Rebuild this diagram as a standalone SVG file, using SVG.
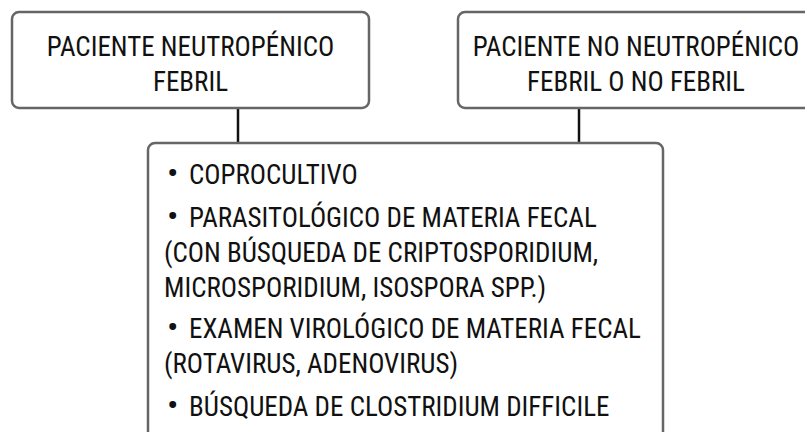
<svg xmlns="http://www.w3.org/2000/svg" width="805" height="432" viewBox="0 0 805 432">
<style>
.box{fill:#fff;stroke:#666;stroke-width:2.5}
.t{font-family:"Liberation Sans Narrow","Roboto Condensed","Liberation Sans",sans-serif;font-size:27px;fill:#111}
.c{text-anchor:middle}
.b{font-size:34px}
.conn{stroke:#111;stroke-width:2.5;fill:none}
</style>
<rect width="805" height="432" fill="#fff"/>
<g id="connectors">
<line class="conn" x1="238" y1="108" x2="238" y2="143"/>
<line class="conn" x1="579" y1="108" x2="579" y2="143"/>
</g>
<g id="node-neutropenico">
<rect class="box" x="12" y="12" width="357" height="96" rx="7"/>
<text class="t c" x="190.5" y="56">PACIENTE NEUTROPÉNICO</text>
<text class="t c" x="190.5" y="91">FEBRIL</text>
</g>
<g id="node-no-neutropenico">
<rect class="box" x="458" y="12" width="357" height="96" rx="7"/>
<text class="t c" x="636" y="56">PACIENTE NO NEUTROPÉNICO</text>
<text class="t c" x="636" y="91">FEBRIL O NO FEBRIL</text>
</g>
<g id="node-estudios">
<rect class="box" x="148" y="143" width="515" height="320" rx="7"/>
<text class="t"><tspan class="b" x="167" y="185">• </tspan><tspan x="189" y="184">COPROCULTIVO</tspan></text>
<text class="t"><tspan class="b" x="167" y="228">• </tspan><tspan x="189" y="227">PARASITOLÓGICO DE MATERIA FECAL</tspan></text>
<text class="t" x="164" y="262">(CON BÚSQUEDA DE CRIPTOSPORIDIUM,</text>
<text class="t" x="164" y="297">MICROSPORIDIUM, ISOSPORA SPP.)</text>
<text class="t"><tspan class="b" x="167" y="339">• </tspan><tspan x="189" y="338">EXAMEN VIROLÓGICO DE MATERIA FECAL</tspan></text>
<text class="t" x="164" y="373">(ROTAVIRUS, ADENOVIRUS)</text>
<text class="t"><tspan class="b" x="167" y="417">• </tspan><tspan x="189" y="416">BÚSQUEDA DE CLOSTRIDIUM DIFFICILE</tspan></text>
</g>
</svg>
